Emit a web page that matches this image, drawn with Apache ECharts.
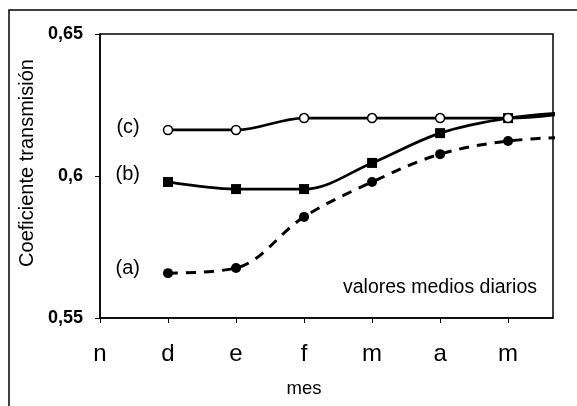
<!DOCTYPE html>
<html><head><meta charset="utf-8">
<script src="https://cdn.jsdelivr.net/npm/echarts@6/dist/echarts.min.js"></script>
<style>html,body{margin:0;padding:0;background:#fff}#c{width:577px;height:406px}</style>
</head><body><div id="c"></div>
<script>
// Categories (x index 0..6) and one extra month beyond the plot edge (index 7)
const months = ['n', 'd', 'e', 'f', 'm', 'a', 'm'];
const monthPos = [0, 1, 2, 3, 4, 5, 6];
const pointX = [1, 2, 3, 4, 5, 6, 7];
// Series values
const seriesA = [0.5658, 0.5676, 0.5856, 0.5979, 0.6077, 0.6123, 0.6138];
const seriesB = [0.5979, 0.5954, 0.5954, 0.6046, 0.6151, 0.6204, 0.6225];
const seriesC = [0.6162, 0.6162, 0.6204, 0.6204, 0.6204, 0.6204, 0.6225];
const seriesNames = ['(a)', '(b)', '(c)'];
// Tick labels
const yTicks = [0.55, 0.6, 0.65];
const yTickLabels = ['0,55', '0,6', '0,65'];
const yTitle = 'Coeficiente transmisión';
const xTitle = 'mes';
const note = 'valores medios diarios';

const FONT = "'Liberation Sans', Arial, sans-serif";

function build(vals, name, labelOffset) {
  return vals.map((v, i) => {
    const item = { value: [pointX[i], v] };
    if (i === 0) {
      item.label = {
        show: true, formatter: name, position: 'left', distance: 23,
        offset: labelOffset, fontSize: 20, color: '#000', fontFamily: FONT
      };
    }
    return item;
  });
}

const chart = echarts.init(document.getElementById('c'), null, { renderer: 'canvas' });
chart.setOption({
  animation: false,
  backgroundColor: '#fff',
  grid: { left: 100, top: 34, right: 24, bottom: 88, show: true, borderColor: '#000', borderWidth: 1.5, backgroundColor: 'transparent' },
  xAxis: {
    type: 'value', min: 0, max: 6.66, interval: 1,
    splitLine: { show: false },
    axisLine: { lineStyle: { color: '#000', width: 1.5 } },
    axisTick: { show: true, length: 5, customValues: monthPos, lineStyle: { color: '#000', width: 1 } },
    axisLabel: {
      customValues: monthPos,
      formatter: v => months[Math.round(v)] || '',
      fontSize: 24, color: '#000', fontFamily: FONT, margin: 24
    }
  },
  yAxis: {
    type: 'value', min: 0.55, max: 0.65, interval: 0.05,
    splitLine: { show: false },
    axisLine: { show: true, lineStyle: { color: '#000', width: 1.5 } },
    axisTick: { show: true, length: 5, lineStyle: { color: '#000', width: 1 } },
    axisLabel: {
      formatter: v => { const k = yTicks.findIndex(t => Math.abs(t - v) < 1e-6); return k >= 0 ? yTickLabels[k] : ''; },
      fontSize: 18, fontWeight: 'bold', color: '#000', fontFamily: FONT, margin: 17
    }
  },
  series: [
    {
      type: 'line', name: seriesNames[0], data: build(seriesA, seriesNames[0], [0, -5]),
      smooth: 0.35, symbol: 'circle', symbolSize: 10,
      itemStyle: { color: '#000', borderWidth: 0 },
      lineStyle: { color: '#000', width: 3, type: [10, 8] }
    },
    {
      type: 'line', name: seriesNames[1], data: build(seriesB, seriesNames[1], [0, -7]),
      smooth: 0.35, symbol: 'rect', symbolSize: 10,
      itemStyle: { color: '#000', borderWidth: 0 },
      lineStyle: { color: '#000', width: 2.75 }
    },
    {
      type: 'line', name: seriesNames[2], data: build(seriesC, seriesNames[2], [0, -3]),
      smooth: 0.35, symbol: 'circle', symbolSize: 9,
      itemStyle: { color: '#fff', borderColor: '#000', borderWidth: 1.5 },
      lineStyle: { color: '#000', width: 2.75 }
    }
  ],
  graphic: [
    { type: 'rect', z: -1, shape: { x: 9, y: 10, width: 640, height: 440 }, style: { fill: 'none', stroke: '#000', lineWidth: 1.5 } },
    { type: 'text', x: 27, y: 163, rotation: Math.PI / 2, style: { text: yTitle, fontSize: 20, fontFamily: FONT, fill: '#000', textAlign: 'center', textVerticalAlign: 'middle' } },
    { type: 'text', x: 304, y: 389, style: { text: xTitle, fontSize: 18.5, fontFamily: FONT, fill: '#000', textAlign: 'center', textVerticalAlign: 'middle' } },
    { type: 'text', x: 440, y: 288, style: { text: note, fontSize: 19.5, fontFamily: FONT, fill: '#000', textAlign: 'center', textVerticalAlign: 'middle' } }
  ]
});
</script></body></html>
